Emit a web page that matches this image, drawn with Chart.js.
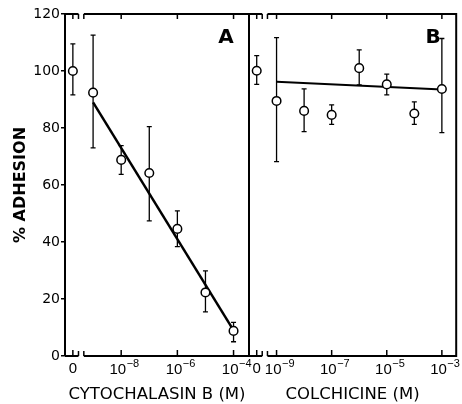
<!DOCTYPE html>
<html>
<head>
<meta charset="utf-8">
<script src="https://cdn.jsdelivr.net/npm/chart.js@4"></script>
<style>
  html, body { margin: 0; padding: 0; background: #fff; }
  #wrap { position: relative; width: 462px; height: 404px; }
  canvas { position: absolute; left: 0; top: 0; }
</style>
</head>
<body>
<div id="wrap">
  <canvas id="panelA" width="462" height="404"></canvas>
  <canvas id="panelB" width="462" height="404"></canvas>
</div>
<script>
// Panel A : cytochalasin B, dose as log10(M), null = no drug
const cytoDose = [null, -9, -8, -7, -6, -5, -4];
const cytoMean = [100, 92.4, 68.8, 64.2, 44.6, 22.3, 8.8];
const cytoHigh = [109.5, 112.6, 73.8, 80.5, 50.9, 29.9, 11.8];
const cytoLow  = [91.6, 73, 63.7, 47.4, 38.4, 15.5, 5];
const cytoFitDose = [-9, -4];
const cytoFit = [89, 9];
const cytoTicks = [null, -8, -6, -4];

// Panel B : colchicine
const colchDose = [null, -9, -8, -7, -6, -5, -4, -3];
const colchMean = [100.1, 89.5, 86, 84.6, 101, 95.3, 85.1, 93.7];
const colchHigh = [105.4, 111.7, 93.7, 88.1, 107.4, 98.9, 89.2, 111.4];
const colchLow  = [95.3, 68.2, 78.7, 81.3, 95.1, 91.6, 81.3, 78.4];
const colchFitDose = [-9, -3];
const colchFit = [96.2, 93.5];
const colchTicks = [null, -9, -7, -5, -3];

const FONT = "'DejaVu Sans', sans-serif";
const LBL_FONT = "'Liberation Sans', sans-serif";
const ZERO_X = -9.72;          // where the "0" dose sits on the log axis
const BREAK = [-9.52, -9.33];  // axis break between 0 and the log scale

const xPos = d => d === null ? ZERO_X : d;
const isZero = v => Math.abs(v - ZERO_X) < 1e-6;

function makePanel(id, p) {
    const points = p.dose.map((d, i) => ({ x: xPos(d), y: p.mean[i] }));
    const fit = p.fitDose.map((d, i) => ({ x: d, y: p.fit[i] }));

    // error bars, drawn under the circles
    const errorBars = {
        id: 'errorBars',
        beforeDatasetsDraw(chart) {
            const { ctx, scales: { x, y } } = chart;
            ctx.save();
            ctx.strokeStyle = '#000';
            ctx.lineWidth = 1.3;
            p.dose.forEach((d, i) => {
                const px = x.getPixelForValue(xPos(d));
                const hi = y.getPixelForValue(p.high[i]);
                const lo = y.getPixelForValue(p.low[i]);
                ctx.beginPath();
                ctx.moveTo(px, hi); ctx.lineTo(px, lo);
                ctx.moveTo(px - 2.5, hi); ctx.lineTo(px + 2.5, hi);
                ctx.moveTo(px - 2.5, lo); ctx.lineTo(px + 2.5, lo);
                ctx.stroke();
            });
            ctx.restore();
        }
    };

    // box round the panel, inward ticks, axis breaks, 10^n labels, panel letter
    const frame = {
        id: 'frame',
        afterDatasetsDraw(chart) {
            const { ctx, chartArea: { left, right, top, bottom }, scales: { x } } = chart;
            const b0 = x.getPixelForValue(BREAK[0]);
            const b1 = x.getPixelForValue(BREAK[1]);
            const line = (x1, y1, x2, y2) => { ctx.beginPath(); ctx.moveTo(x1, y1); ctx.lineTo(x2, y2); ctx.stroke(); };
            ctx.save();
            ctx.strokeStyle = '#000';
            ctx.fillStyle = '#000';
            ctx.lineWidth = 2;
            [top, bottom].forEach(yy => { line(left, yy, b0, yy); line(b1, yy, right, yy); });
            line(right, top - 1, right, bottom + 1);
            if (!p.showY) line(left, top - 1, left, bottom + 1);
            ctx.lineWidth = 1.5;
            x.ticks.forEach(t => {
                const px = x.getPixelForValue(t.value);
                line(px, bottom, px, bottom - 6);
                line(px, top, px, top + 5);
            });
            [b0, b1].forEach(px => { line(px, bottom, px, bottom - 5); line(px, top, px, top + 5); });

            // tick labels: "0" and 10 with a raised exponent
            ctx.textBaseline = 'alphabetic';
            x.ticks.forEach(t => {
                const px = x.getPixelForValue(t.value);
                if (isZero(t.value)) {
                    ctx.font = '15px ' + LBL_FONT;
                    ctx.textAlign = 'center';
                    ctx.fillText('0', px, bottom + 17);
                    return;
                }
                ctx.font = '15px ' + LBL_FONT;
                ctx.textAlign = 'right';
                ctx.fillText('10', px + 5, bottom + 18);
                ctx.font = '11px ' + LBL_FONT;
                ctx.textAlign = 'left';
                ctx.fillText(String(t.value).replace('-', '\u2212'), px + 5.5, bottom + 11);
            });

            ctx.font = 'bold 20px ' + FONT;
            ctx.textAlign = 'center';
            ctx.textBaseline = 'middle';
            ctx.fillText(p.letter, right - 23, top + 24);
            ctx.restore();
        }
    };

    return new Chart(document.getElementById(id), {
        type: 'scatter',
        data: {
            datasets: [
                {
                    data: points,
                    pointRadius: 4.3,
                    pointBorderWidth: 1.5,
                    pointBackgroundColor: '#fff',
                    pointBorderColor: '#000',
                    order: 0
                },
                {
                    data: fit,
                    showLine: true,
                    borderColor: '#000',
                    borderWidth: p.fitWidth,
                    pointRadius: 0,
                    order: 1
                }
            ]
        },
        options: {
            responsive: false,
            animation: false,
            events: [],
            layout: { padding: p.padding },
            plugins: {
                legend: { display: false },
                tooltip: { enabled: false }
            },
            scales: {
                x: {
                    type: 'linear',
                    min: -10,
                    max: p.xMax,
                    afterBuildTicks: s => { s.ticks = p.ticks.map(d => ({ value: xPos(d) })); },
                    afterFit: s => { s.height = 48; },
                    grid: { display: false },
                    border: { display: false },
                    ticks: { display: false },
                    title: {
                        display: true,
                        text: p.title,
                        color: '#000',
                        font: { family: FONT, size: 16.5, lineHeight: 1 },
                        padding: { top: 0, bottom: 1 }
                    }
                },
                y: {
                    display: p.showY,
                    min: 0,
                    max: 120,
                    ticks: {
                        stepSize: 20,
                        padding: 1,
                        color: '#000',
                        font: { family: FONT, size: 14 }
                    },
                    afterFit: s => { s.width = p.showY ? 65 : 0; },
                    grid: { drawOnChartArea: false, tickLength: 4, color: '#000', lineWidth: 1.5 },
                    border: { display: true, color: '#000', width: 2 },
                    title: {
                        display: true,
                        text: '% ADHESION',
                        color: '#000',
                        font: { family: FONT, size: 16, weight: 'bold', lineHeight: 1.2 },
                        padding: { top: 11, bottom: 0 }
                    }
                }
            }
        },
        plugins: [errorBars, frame]
    });
}

makePanel('panelA', {
    dose: cytoDose, mean: cytoMean, high: cytoHigh, low: cytoLow,
    fitDose: cytoFitDose, fit: cytoFit, fitWidth: 2.5,
    ticks: cytoTicks, xMax: -3.45, title: 'CYTOCHALASIN B (M)',
    letter: 'A', showY: true,
    padding: { left: 0, right: 213, top: 14, bottom: 0 }
});

makePanel('panelB', {
    dose: colchDose, mean: colchMean, high: colchHigh, low: colchLow,
    fitDose: colchFitDose, fit: colchFit, fitWidth: 2,
    ticks: colchTicks, xMax: -2.48, title: 'COLCHICINE (M)',
    letter: 'B', showY: false,
    padding: { left: 249, right: 3, top: 14, bottom: 0 }
});
</script>
</body>
</html>
